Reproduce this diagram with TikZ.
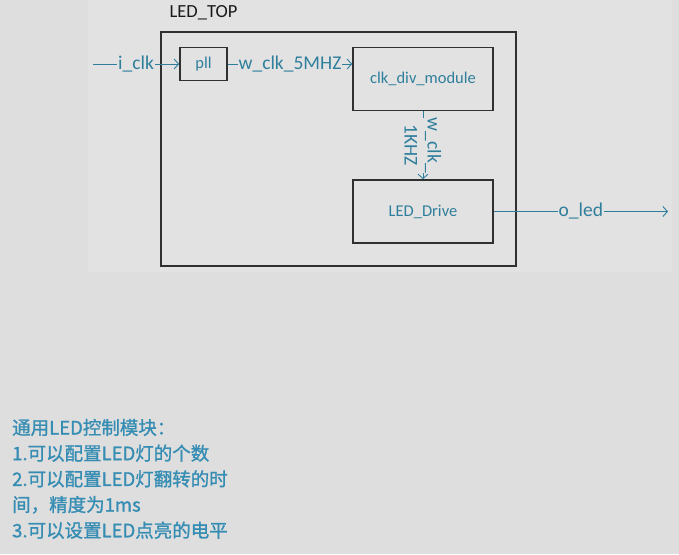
\documentclass[tikz,border=0pt]{standalone}
\usepackage{fontspec}
\setmainfont{Carlito}
\newfontfamily\cjk[FakeBold=1.2]{Noto Sans CJK SC}
\usetikzlibrary{arrows.meta}
\definecolor{bg}{HTML}{DEDEDE}
\definecolor{panel}{HTML}{E2E2E2}
\definecolor{wire}{HTML}{2F7F9C}
\definecolor{note}{HTML}{368DB3}
\definecolor{frame}{HTML}{303030}
\begin{document}
\begin{tikzpicture}[x=1pt,y=-1pt,
  blk/.style={draw=frame,line width=1.6pt,inner sep=0pt,text=wire,font=\fontsize{16.5}{19}\selectfont},
  wirelab/.style={text=wire,font=\fontsize{19.5}{23}\selectfont,fill=panel,inner sep=1pt},
  sig/.style={draw=wire,line width=0.9pt},
  arr/.style={sig,-{Straight Barb[length=4.5pt,width=10pt,line width=0.9pt]}},
  notetext/.style={anchor=base west,inner sep=0pt,text=note,font=\cjk\fontsize{18.5}{25.7}\selectfont},
]
\fill[bg] (0,0) rectangle (679,554);
\useasboundingbox (0,0) rectangle (679,554);
\fill[panel] (88,0) rectangle (672,272);

\node[draw=frame,line width=1.6pt,minimum width=355pt,minimum height=234pt,inner sep=0pt] (top) at (338.5,149) {};
\node[text=black!90,font=\fontsize{18.5}{22}\selectfont] (toplab) at (203.5,13) {LED\_TOP};

\node[blk,minimum width=47pt,minimum height=33pt] (pll) at (203.5,64) {pll};
\node[blk,minimum width=140pt,minimum height=63pt] (clkdiv) at (423,79) {clk\_div\_module};
\node[blk,minimum width=140pt,minimum height=63pt] (drive) at (423,211.5) {LED\_Drive};

\coordinate (iclkin) at (93,64);
\coordinate (oledout) at (668,211.5);

\draw[arr] (iclkin) -- node[wirelab] (lclk) {i\_clk} (pll.west);
\draw[arr] (pll.east) -- node[wirelab] (l5m) {w\_clk\_5MHZ} (pll.east -| clkdiv.west);
\draw[arr] (clkdiv.south) -- node[wirelab,rotate=-90,align=center,inner sep=0pt] (l1k) {w\_clk\_\\1KHZ} (drive.north);
\draw[arr] (drive.east) -- node[wirelab] (lled) {o\_led} (oledout);

\node[notetext] (t1) at (12,434.5) {通用LED控制模块：};
\node[notetext] (t2) at (12,460.2) {1.可以配置LED灯的个数};
\node[notetext] (t3) at (12,485.9) {2.可以配置LED灯翻转的时};
\node[notetext] (t4) at (12,511.6) {间，精度为1ms};
\node[notetext] (t5) at (12,537.3) {3.可以设置LED点亮的电平};
\end{tikzpicture}
\end{document}
